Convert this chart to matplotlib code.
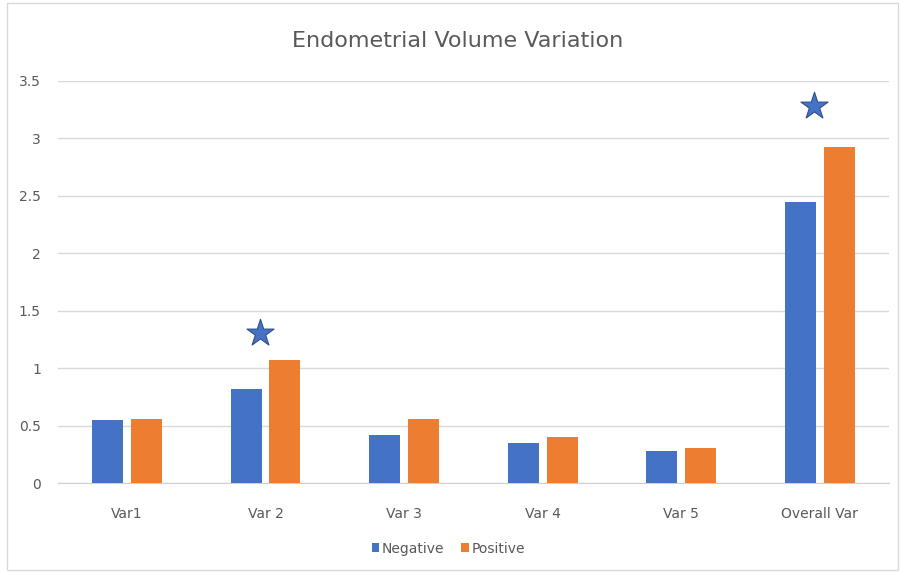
import matplotlib
matplotlib.use('Agg')
import matplotlib.pyplot as plt
import numpy as np
from matplotlib.patches import Rectangle

# ── Data ──────────────────────────────────────────────────────────────────────
categories = ['Var1', 'Var 2', 'Var 3', 'Var 4', 'Var 5', 'Overall Var']
negative = [0.55, 0.82, 0.42, 0.35, 0.28, 2.45]
positive = [0.56, 1.07, 0.56, 0.40, 0.31, 2.92]

# significance markers
star_cats = ['Var 2', 'Overall Var']
star_y = [1.31, 3.28]

BLUE = '#4472C4'
ORANGE = '#ED7D31'
GRAY = '#595959'

plt.rcParams['font.family'] = ['DejaVu Sans']

fig = plt.figure(figsize=(9, 5.73), dpi=100)
ax = fig.add_axes([0.064, 0.1565, 0.924, 0.7026])

x = np.arange(len(categories))
w = 0.225
off = 0.14
ax.bar(x - off, negative, w, color=BLUE, label='Negative', zorder=3)
ax.bar(x + off, positive, w, color=ORANGE, label='Positive', zorder=3)

sx = np.array([categories.index(c) for c in star_cats]) - 0.04
ax.scatter(sx, star_y, marker='*', s=420, color=BLUE, edgecolor='#2f4f8f',
           linewidth=0.8, zorder=4)

ax.set_xlim(-0.5, len(categories) - 0.5)
ax.set_ylim(0, 3.5)
ax.set_yticks(np.arange(0, 3.51, 0.5))
ax.set_yticklabels(['0', '0.5', '1', '1.5', '2', '2.5', '3', '3.5'])
ax.set_xticks(x)
ax.set_xticklabels(categories)
ax.grid(axis='y', color='#d9d9d9', lw=1, zorder=0)
for s in ['top', 'right', 'left']:
    ax.spines[s].set_visible(False)
ax.spines['bottom'].set_color('#d0d0d0')
ax.tick_params(axis='both', length=0, colors=GRAY, labelsize=10)
ax.tick_params(axis='x', pad=17)
ax.tick_params(axis='y', pad=12)

fig.text(0.508, 0.928, 'Endometrial Volume Variation', ha='center', va='center',
         fontsize=16, color=GRAY)

ax.legend(loc='center', bbox_to_anchor=(0.47, -0.162), bbox_transform=ax.transAxes,
          ncol=2, frameon=False, fontsize=10, labelcolor=GRAY,
          handlelength=0.55, handleheight=0.55, handletextpad=0.2, columnspacing=1.2)

# outer chart border
fig.patches.append(Rectangle((0.008, 0.005), 0.99, 0.99, transform=fig.transFigure,
                             fill=False, edgecolor='#d9d9d9', lw=1))

fig.savefig('out.png', dpi=100)
